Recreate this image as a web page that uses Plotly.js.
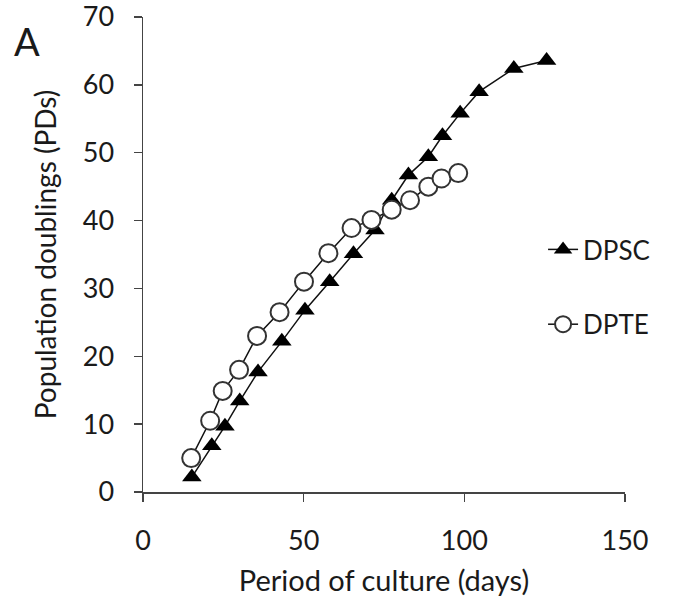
<!DOCTYPE html>
<html>
<head>
<meta charset="utf-8">
<script src="https://cdn.plot.ly/plotly-3.0.1.min.js"></script>
<style>
html,body{margin:0;padding:0;background:#fff;}
#chart{width:677px;height:606px;}
</style>
</head>
<body>
<div id="chart"></div>
<script>
// Data
const dpscDays = [15.2, 21.4, 25.5, 30.1, 35.8, 43.2, 50.4, 58.1, 65.5, 72.2, 77.4, 82.6, 88.8, 93.2, 98.7, 104.6, 115.4, 125.6];
const dpscPD   = [2.2, 6.8, 9.7, 13.4, 17.7, 22.2, 26.8, 31.0, 35.1, 38.6, 43.0, 46.7, 49.4, 52.5, 55.8, 59.0, 62.4, 63.6];
const dpteDays = [15.0, 20.9, 24.8, 29.9, 35.5, 42.5, 50.1, 57.7, 64.9, 71.1, 77.4, 83.1, 88.8, 92.9, 98.1];
const dptePD   = [5.0, 10.5, 14.9, 18.0, 23.0, 26.5, 31.0, 35.2, 38.9, 40.1, 41.6, 43.0, 45.0, 46.2, 47.0];
const xTicks = [0, 50, 100, 150];
const yTicks = [0, 10, 20, 30, 40, 50, 60, 70];

const FONT = 'Lato, "Open Sans", sans-serif';

const traces = [
  {
    x: dpscDays, y: dpscPD, name: 'DPSC', type: 'scatter', mode: 'lines+markers',
    legendgroup: 'a',
    line: {color: '#111', width: 1.5},
    marker: {symbol: 'triangle-up', size: 17, color: '#000', line: {color: '#000', width: 0}}
  },
  {
    x: dpteDays, y: dptePD, name: 'DPTE', type: 'scatter', mode: 'lines+markers',
    legendgroup: 'b',
    line: {color: '#111', width: 1.5},
    marker: {symbol: 'circle', size: 18, color: '#fff', line: {color: '#333', width: 2}}
  }
];

const layout = {
  width: 677, height: 606,
  margin: {l: 143, r: 52, t: 17, b: 114},
  paper_bgcolor: '#fff', plot_bgcolor: '#fff',
  font: {family: FONT, color: '#1a1a1a', size: 24},
  showlegend: true,
  legend: {
    x: 0.83, y: 0.56, xanchor: 'left', yanchor: 'top',
    font: {family: FONT, size: 26, color: '#1a1a1a'},
    traceorder: 'grouped', tracegroupgap: 38,
    bgcolor: 'rgba(0,0,0,0)', itemwidth: 30
  },
  xaxis: {
    range: [0, 150], tickvals: xTicks, ticktext: xTicks.map(String),
    showgrid: false, zeroline: false, showline: true, linecolor: '#444', linewidth: 1.5,
    ticks: 'outside', ticklen: 8, tickwidth: 1.5, tickcolor: '#444',
    ticklabelstandoff: 16, ticklabeloverflow: 'allow',
    tickfont: {family: FONT, size: 27, color: '#1a1a1a'},
    title: {text: 'Period of culture (days)', font: {family: FONT, size: 29, color: '#1a1a1a'}, standoff: 16}
  },
  yaxis: {
    range: [0, 70], tickvals: yTicks, ticktext: yTicks.map(String),
    showgrid: false, zeroline: false, showline: true, linecolor: '#444', linewidth: 1.5,
    ticks: 'outside', ticklen: 8, tickwidth: 1.5, tickcolor: '#444',
    ticklabelstandoff: 14, ticklabeloverflow: 'allow',
    tickfont: {family: FONT, size: 27, color: '#1a1a1a'},
    title: {text: 'Population doublings (PDs)', font: {family: FONT, size: 28, color: '#1a1a1a'}, standoff: 18}
  },
  annotations: [
    {text: 'A', xref: 'paper', yref: 'paper', x: -0.24, y: 0.95, xanchor: 'center', yanchor: 'middle',
     showarrow: false, font: {family: FONT, size: 38, color: '#1a1a1a'}}
  ]
};

Plotly.newPlot('chart', traces, layout, {displayModeBar: false, staticPlot: true});
</script>
</body>
</html>
